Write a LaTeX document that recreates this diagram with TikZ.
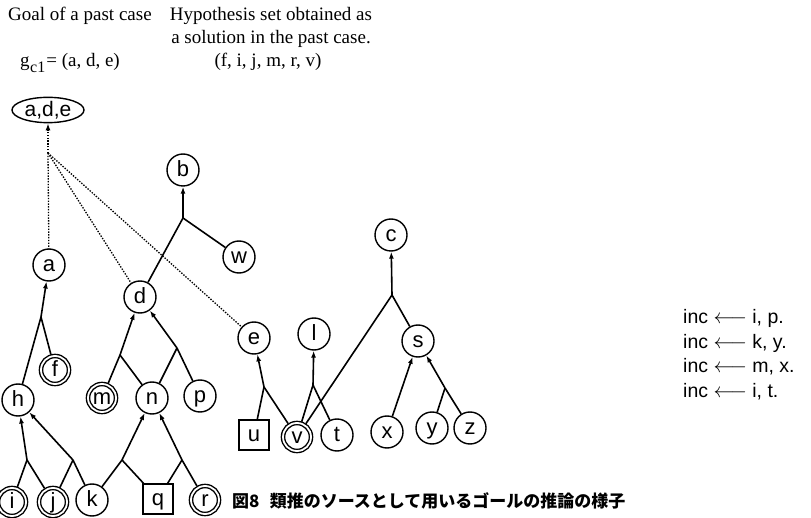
\documentclass[tikz,border=0pt]{standalone}
\usepackage{fontspec}
\setmainfont{Liberation Serif}
\newfontfamily\lblfont{Liberation Sans}
\newfontfamily\cjk{Noto Sans CJK JP}
\usetikzlibrary{arrows.meta,shapes.geometric}

\tikzset{
  lit/.style={circle, draw, line width=1.4pt, minimum size=32pt, inner sep=0pt,
    text height=16pt, text depth=3.5pt, font=\lblfont\fontsize{22}{22}\selectfont},
  hyp/.style={lit, double, double distance=1.8pt, minimum size=28pt, outer sep=2pt},
  obs/.style={lit, rectangle, minimum size=30pt},
  goalnode/.style={ellipse, draw, line width=1.4pt, minimum width=72pt, minimum height=25pt,
    inner sep=0pt, font=\lblfont\fontsize{21}{21}\selectfont},
  link/.style={line width=1.6pt},
  infer/.style={link, -{Latex[length=7pt,width=5pt]}},
  guess/.style={line width=1.3pt, dash pattern=on 1.4pt off 1.4pt},
  guessarrow/.style={guess, -{Latex[length=7pt,width=5pt]}},
  note/.style={font=\fontsize{19}{23}\selectfont, inner sep=0pt},
  rule/.style={font=\lblfont\fontsize{19.5}{20}\selectfont, inner sep=0pt, anchor=base west},
}

\begin{document}
\begin{tikzpicture}[x=1pt, y=-1pt]
  \useasboundingbox (0,0) rectangle (811,518);
  \clip (0,0) rectangle (811,518);

  % headings
  \node[note, anchor=base west] (goaltitle) at (8,21) {Goal of a past case};
  \node[note, anchor=base west] (goalset) at (20,67)
    {g\kern0.5pt\raisebox{-5.5pt}{\fontsize{16}{16}\selectfont c1}\kern1pt= (a, d, e)};
  \node[note, anchor=base] (hyp1) at (271,21) {Hypothesis set obtained as};
  \node[note, anchor=base] (hyp2) at (271,44) {a solution in the past case.};
  \node[note, anchor=base] (hyp3) at (268,67) {(f, i, j, m, r, v)};

  % goal of the past case
  \node[goalnode] (ade) at (48,110) {a,d,e};

  % literals
  \node[lit] (b) at (183,170) {b};
  \node[lit] (w) at (239,257) {w};
  \node[lit] (a) at (49,265) {a};
  \node[lit] (d) at (140,297) {d};
  \node[lit] (c) at (391,235) {c};
  \node[lit] (e) at (254,338) {e};
  \node[lit] (l) at (314,334) {l};
  \node[lit] (s) at (418,341) {s};
  \node[hyp] (f) at (55,370) {f};
  \node[lit] (h) at (18,400) {h};
  \node[hyp] (m) at (102,398) {m};
  \node[lit] (n) at (152,398) {n};
  \node[lit] (p) at (200,396) {p};
  \node[obs] (u) at (254,435) {u};
  \node[hyp] (v) at (297,437) {v};
  \node[lit] (t) at (337,435) {t};
  \node[lit] (x) at (387,432) {x};
  \node[lit] (y) at (432,428) {y};
  \node[lit] (z) at (470,428) {z};
  \node[hyp] (i) at (12,502) {i};
  \node[hyp] (j) at (53,502) {j};
  \node[lit] (k) at (92,500) {k};
  \node[obs] (q) at (158,499) {q};
  \node[hyp] (r) at (205,500) {r};

  % rule junctions
  \coordinate (jtop) at (48,153);
  \coordinate (jb) at (183,218);
  \coordinate (ja) at (41,317);
  \coordinate (jd1) at (120,355);
  \coordinate (jd2) at (177,348);
  \coordinate (jh1) at (27,460);
  \coordinate (jh2) at (73,460);
  \coordinate (jn1) at (122,460);
  \coordinate (jn2) at (182,460);
  \coordinate (je) at (264,387);
  \coordinate (jl) at (313,385);
  \coordinate (jc) at (392,295);
  \coordinate (js) at (445,388);

  % goal decomposition (dotted)
  \draw[guessarrow] (jtop) -- (ade);
  \draw[guess] (jtop) -- (a);
  \draw[guess] (jtop) -- (d);
  \draw[guess] (jtop) -- (e);

  % inference rules
  \draw[infer] (jb) -- (b);
  \draw[link] (jb) -- (d); \draw[link] (jb) -- (w);

  \draw[infer] (ja) -- (a);
  \draw[link] (ja) -- (h); \draw[link] (ja) -- (f);

  \draw[infer] (jd1) -- (d);
  \draw[link] (jd1) -- (m); \draw[link] (jd1) -- (n);
  \draw[infer] (jd2) -- (d);
  \draw[link] (jd2) -- (n); \draw[link] (jd2) -- (p);

  \draw[infer] (jh1) -- (h);
  \draw[link] (jh1) -- (i); \draw[link] (jh1) -- (j);
  \draw[infer] (jh2) -- (h);
  \draw[link] (jh2) -- (j); \draw[link] (jh2) -- (k);

  \draw[infer] (jn1) -- (n);
  \draw[link] (jn1) -- (k); \draw[link] (jn1) -- (q);
  \draw[infer] (jn2) -- (n);
  \draw[link] (jn2) -- (q); \draw[link] (jn2) -- (r);

  \draw[infer] (je) -- (e);
  \draw[link] (je) -- (u); \draw[link] (je) -- (v);
  \draw[infer] (jl) -- (l);
  \draw[link] (jl) -- (v); \draw[link] (jl) -- (t);

  \draw[infer] (jc) -- (c);
  \draw[link] (jc) -- (v); \draw[link] (jc) -- (s);

  \draw[infer] (x) -- (s);
  \draw[infer] (js) -- (s);
  \draw[link] (js) -- (y); \draw[link] (js) -- (z);

  % integrity constraints
  \node[rule] (ic1) at (683,324) {inc $\longleftarrow$ i, p.};
  \node[rule] (ic2) at (683,349) {inc $\longleftarrow$ k, y.};
  \node[rule] (ic3) at (683,373) {inc $\longleftarrow$ m, x.};
  \node[rule] (ic4) at (683,398) {inc $\longleftarrow$ i, t.};

  % caption
  \node[font=\cjk\bfseries\fontsize{17}{17}\selectfont, anchor=base west, inner sep=0pt]
    (caption) at (232,507) {図8\hspace{0.6em}類推のソースとして用いるゴールの推論の様子};
\end{tikzpicture}
\end{document}
